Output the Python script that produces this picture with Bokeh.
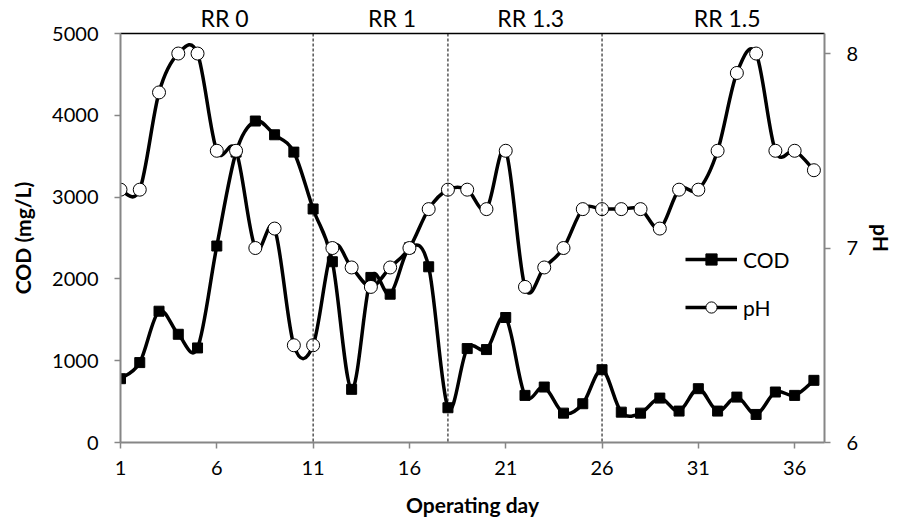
from bokeh.plotting import figure
from bokeh.models import (Range1d, LinearAxis, FixedTicker, Span, Legend,
                          LegendItem, ColumnDataSource)
from bokeh.embed import file_html
from bokeh.resources import INLINE

# ---------------- data ----------------
days = list(range(1, 38))
cod = [780, 977, 1605, 1323, 1156, 2402, 3550, 3930, 3762, 3550,
       2855, 2210, 650, 2018, 1813, 2380, 2148, 425, 1148, 1136,
       1528, 576, 678, 359, 474, 890, 371, 359, 543, 384,
       658, 384, 555, 343, 617, 576, 760]
ph = [7.3, 7.3, 7.8, 8.0, 8.0, 7.5, 7.5, 7.0, 7.1, 6.5,
      6.5, 7.0, 6.9, 6.8, 6.9, 7.0, 7.2, 7.3, 7.3, 7.2,
      7.5, 6.8, 6.9, 7.0, 7.2, 7.2, 7.2, 7.2, 7.1, 7.3,
      7.3, 7.5, 7.9, 8.0, 7.5, 7.5, 7.4]
x_ticks = [1, 6, 11, 16, 21, 26, 31, 36]
cod_ticks = [0, 1000, 2000, 3000, 4000, 5000]
ph_ticks = [6, 7, 8]
phase_bounds = [11, 18, 26]
phase_labels = ["RR 0", "RR 1", "RR 1.3", "RR 1.5"]
phase_label_x = [6.4, 15.1, 22.3, 32.5]

FONT = "Lato"
AXIS_GREY = "#868686"


def smooth_source(xs, ys):
    """Bezier segments (Catmull-Rom control points) through the data points."""
    n = len(xs)
    d = dict(x0=[], y0=[], x1=[], y1=[], cx0=[], cy0=[], cx1=[], cy1=[])
    for i in range(n - 1):
        im = max(i - 1, 0)
        i2 = min(i + 2, n - 1)
        d["x0"].append(xs[i]); d["y0"].append(ys[i])
        d["x1"].append(xs[i + 1]); d["y1"].append(ys[i + 1])
        d["cx0"].append(xs[i] + (xs[i + 1] - xs[im]) / 6)
        d["cy0"].append(ys[i] + (ys[i + 1] - ys[im]) / 6)
        d["cx1"].append(xs[i + 1] - (xs[i2] - xs[i]) / 6)
        d["cy1"].append(ys[i + 1] - (ys[i2] - ys[i]) / 6)
    return ColumnDataSource(d)


p = figure(width=897, height=531, output_backend="svg", toolbar_location=None,
           x_range=Range1d(1, 37.55), y_range=Range1d(0, 5000),
           min_border_left=120, min_border_right=68, min_border_top=0,
           min_border_bottom=89)
p.extra_y_ranges = {"ph": Range1d(6, 8.103)}
p.xgrid.visible = False
p.ygrid.visible = False
p.outline_line_color = None
p.background_fill_color = "white"
p.border_fill_color = "white"

x_axis = p.below[0]
y_axis = p.left[0]

ph_axis = LinearAxis(y_range_name="ph", ticker=FixedTicker(ticks=ph_ticks),
                     axis_label="pH")
p.add_layout(ph_axis, "right")

x_axis.ticker = FixedTicker(ticks=x_ticks)
x_axis.axis_label = "Operating day"
y_axis.ticker = FixedTicker(ticks=cod_ticks)
y_axis.axis_label = "COD (mg/L)"

for ax in [x_axis, y_axis, ph_axis]:
    ax.axis_line_color = AXIS_GREY
    ax.axis_line_width = 2
    ax.major_tick_line_color = AXIS_GREY
    ax.major_tick_line_width = 1.5
    ax.major_tick_out = 6
    ax.major_tick_in = 0
    ax.minor_tick_out = 0
    ax.minor_tick_in = 0
    ax.major_label_text_font = FONT
    ax.major_label_text_font_size = "20px"
    ax.major_label_text_color = "black"
    ax.axis_label_text_font = FONT
    ax.axis_label_text_font_size = "21px"
    ax.axis_label_text_font_style = "bold"
    ax.axis_label_text_color = "black"

y_axis.major_label_standoff = 16
y_axis.axis_label_standoff = 14
x_axis.major_label_standoff = 12
x_axis.axis_label_standoff = 14
ph_axis.major_label_standoff = 16
ph_axis.axis_label_standoff = 8

# top frame line carrying the phase labels
top_axis = LinearAxis(ticker=FixedTicker(ticks=phase_label_x),
                      major_label_overrides={x: t for x, t in zip(phase_label_x, phase_labels)},
                      major_label_text_font=FONT, major_label_text_font_size="23px",
                      major_label_text_color="black", major_label_standoff=2,
                      major_tick_out=0, major_tick_in=0, minor_tick_out=0,
                      minor_tick_in=0, axis_line_color="black", axis_line_width=1.5)
p.add_layout(top_axis, "above")

# phase boundaries
for b in phase_bounds:
    p.add_layout(Span(location=b, dimension="height", line_color="black",
                      line_width=1, line_dash="3 2"))

# COD series
cod_line = p.bezier(x0="x0", y0="y0", x1="x1", y1="y1", cx0="cx0", cy0="cy0",
                    cx1="cx1", cy1="cy1", source=smooth_source(days, cod),
                    line_color="black", line_width=3.5)
cod_pts = p.scatter(days, cod, marker="square", size=10, fill_color="black",
                    line_color="black")

# pH series
ph_line = p.bezier(x0="x0", y0="y0", x1="x1", y1="y1", cx0="cx0", cy0="cy0",
                   cx1="cx1", cy1="cy1", source=smooth_source(days, ph),
                   line_color="black", line_width=3.5, y_range_name="ph")
ph_pts = p.scatter(days, ph, marker="circle", size=13, fill_color="white",
                   line_color="black", line_width=1, y_range_name="ph")

legend = Legend(items=[LegendItem(label="COD", renderers=[cod_line, cod_pts]),
                       LegendItem(label="pH", renderers=[ph_line, ph_pts])],
                location=(565, 121), padding=0, margin=0,
                border_line_color=None, background_fill_alpha=0,
                glyph_width=52, glyph_height=28, label_height=28, spacing=20,
                label_standoff=6, label_text_font=FONT,
                label_text_font_size="21px", label_text_color="black")
p.add_layout(legend)

open("out.html", "w").write(file_html(p, INLINE))
